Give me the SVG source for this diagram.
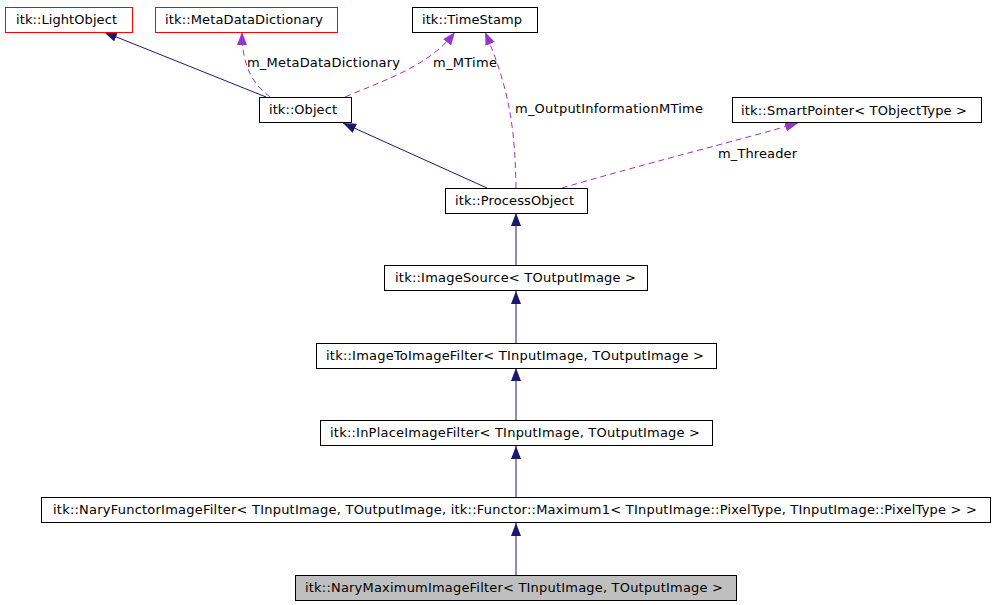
<svg xmlns="http://www.w3.org/2000/svg" width="996" height="605" viewBox="0 0 996 605">
<style>
  text { font-family: "DejaVu Sans", "Liberation Sans", sans-serif; font-size: 13px; fill: #000; }
  .box { fill: #fff; stroke: #000; stroke-width: 1; }
  .red { stroke: #ff0000; }
  .cur { fill: #bfbfbf; }
  .inh { fill: none; stroke: #191970; stroke-width: 1; }
  .use { fill: none; stroke: #9a32cd; stroke-width: 1; stroke-dasharray: 6,4; }
</style>
<defs>
  <marker id="ah" markerUnits="userSpaceOnUse" markerWidth="13" markerHeight="10" viewBox="0 0 13 10" refX="13" refY="5" orient="auto">
    <path d="M0,0 L13,5 L0,10 z" fill="#191970"/>
  </marker>
  <marker id="ap" markerUnits="userSpaceOnUse" markerWidth="13" markerHeight="10" viewBox="0 0 13 10" refX="13" refY="5" orient="auto">
    <path d="M0,0 L13,5 L0,10 z" fill="#9a32cd"/>
  </marker>
</defs>
<g id="connectors">
  <path class="inh" d="M266,97 L104,32" marker-end="url(#ah)"/>
  <path class="use" d="M270,97 C255,85 242,70 242,32" marker-end="url(#ap)"/>
  <path class="use" d="M345,97 C390,78 430,65 455,32" marker-end="url(#ap)"/>
  <path class="use" d="M516,188 C515,130 510,90 485,32" marker-end="url(#ap)"/>
  <path class="inh" d="M487,188 L343,123" marker-end="url(#ah)"/>
  <path class="use" d="M562,188 C640,165 740,140 798,123" marker-end="url(#ap)"/>
  <path class="inh" d="M516,265 L516,213" marker-end="url(#ah)"/>
  <path class="inh" d="M516,343 L516,291" marker-end="url(#ah)"/>
  <path class="inh" d="M516,420 L516,368" marker-end="url(#ah)"/>
  <path class="inh" d="M516,497 L516,446" marker-end="url(#ah)"/>
  <path class="inh" d="M516,575 L516,523" marker-end="url(#ah)"/>
  <text x="247" y="67" textLength="153">m_MetaDataDictionary</text>
  <text x="433" y="67" textLength="64">m_MTime</text>
  <text x="515" y="113" textLength="188">m_OutputInformationMTime</text>
  <text x="718" y="158" textLength="79">m_Threader</text>
</g>
<g id="LightObject">
  <rect class="box red" x="5.5" y="7.5" width="127" height="25"/>
  <text x="16" y="24" textLength="101">itk::LightObject</text>
</g>
<g id="MetaDataDictionary">
  <rect class="box red" x="155.5" y="7.5" width="182" height="25"/>
  <text x="165" y="24" textLength="158">itk::MetaDataDictionary</text>
</g>
<g id="TimeStamp">
  <rect class="box" x="412.5" y="7.5" width="125" height="25"/>
  <text x="422" y="24" textLength="100">itk::TimeStamp</text>
</g>
<g id="Object">
  <rect class="box" x="259.5" y="97.5" width="92" height="25"/>
  <text x="269" y="114" textLength="68">itk::Object</text>
</g>
<g id="SmartPointer">
  <rect class="box" x="732.5" y="97.5" width="249" height="25"/>
  <text x="741" y="115" textLength="226">itk::SmartPointer&lt; TObjectType &gt;</text>
</g>
<g id="ProcessObject">
  <rect class="box" x="445.5" y="188.5" width="142" height="25"/>
  <text x="455" y="205" textLength="119">itk::ProcessObject</text>
</g>
<g id="ImageSource">
  <rect class="box" x="384.5" y="265.5" width="263" height="25"/>
  <text x="395" y="282" textLength="241">itk::ImageSource&lt; TOutputImage &gt;</text>
</g>
<g id="ImageToImageFilter">
  <rect class="box" x="316.5" y="343.5" width="400" height="25"/>
  <text x="326" y="360" textLength="378">itk::ImageToImageFilter&lt; TInputImage, TOutputImage &gt;</text>
</g>
<g id="InPlaceImageFilter">
  <rect class="box" x="320.5" y="420.5" width="392" height="25"/>
  <text x="330" y="437" textLength="370">itk::InPlaceImageFilter&lt; TInputImage, TOutputImage &gt;</text>
</g>
<g id="NaryFunctorImageFilter">
  <rect class="box" x="41.5" y="497.5" width="949" height="25"/>
  <text x="53" y="514" textLength="924">itk::NaryFunctorImageFilter&lt; TInputImage, TOutputImage, itk::Functor::Maximum1&lt; TInputImage::PixelType, TInputImage::PixelType &gt; &gt;</text>
</g>
<g id="NaryMaximumImageFilter">
  <rect class="box cur" x="295.5" y="575.5" width="441" height="25"/>
  <text x="305" y="592" textLength="418">itk::NaryMaximumImageFilter&lt; TInputImage, TOutputImage &gt;</text>
</g>
</svg>
